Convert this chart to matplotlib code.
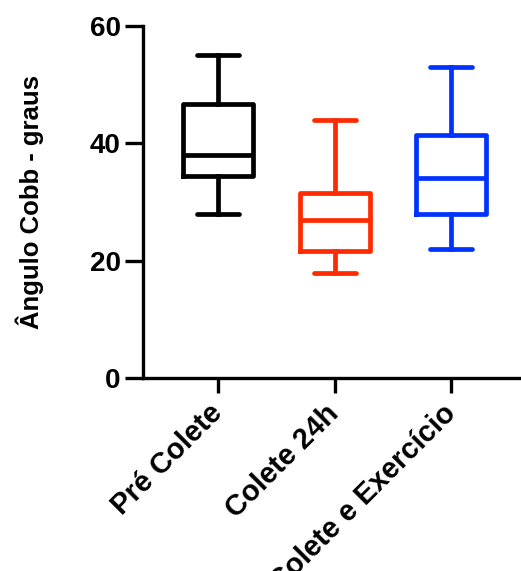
import matplotlib
matplotlib.use("Agg")
import matplotlib.pyplot as plt

plt.rcParams['font.family'] = ['Liberation Sans', 'DejaVu Sans']
plt.rcParams['font.weight'] = 'bold'

groups = ["Pré Colete", "Colete 24h", "Colete e Exercício"]
colors = ["#000000", "#FF2A00", "#0033FF"]
whislo = [28, 18, 22]
q1 = [34.5, 21.6, 28]
med = [38, 27, 34.1]
q3 = [46.7, 31.5, 41.4]
whishi = [55, 44, 53]

fig = plt.figure(figsize=(5.21, 5.71), dpi=100)
ax = fig.add_axes([0.274, 0.3375, 0.726, 0.617])

lw = 3.4
for i in range(len(groups)):
    st = [dict(label=groups[i], whislo=whislo[i], q1=q1[i], med=med[i],
               q3=q3[i], whishi=whishi[i], fliers=[])]
    c = colors[i]
    ax.bxp(st, positions=[i + 1], widths=0.6, capwidths=0.36,
           boxprops=dict(color=c, linewidth=lw),
           medianprops=dict(color=c, linewidth=lw),
           whiskerprops=dict(color=c, linewidth=lw),
           capprops=dict(color=c, linewidth=lw, solid_capstyle='round'),
           showfliers=False)

ax.set_xlim(0.35, 3.6)
ax.set_ylim(0, 60)
ax.set_yticks([0, 20, 40, 60])
ax.set_xticks([1, 2, 3])
ax.set_xticklabels(groups, rotation=45, ha='right', va='center',
                   rotation_mode='anchor', fontsize=21, fontweight='bold')
ax.tick_params(axis='y', labelsize=20, width=2.4, length=13, pad=3)
ax.tick_params(axis='x', width=2.4, length=11, pad=11)
for s in ['top', 'right']:
    ax.spines[s].set_visible(False)
for s in ['left', 'bottom']:
    ax.spines[s].set_linewidth(2.4)
ax.set_ylabel("Ângulo Cobb - graus", fontsize=18.5, fontweight='bold', labelpad=33)

fig.savefig("out.png", dpi=100)
